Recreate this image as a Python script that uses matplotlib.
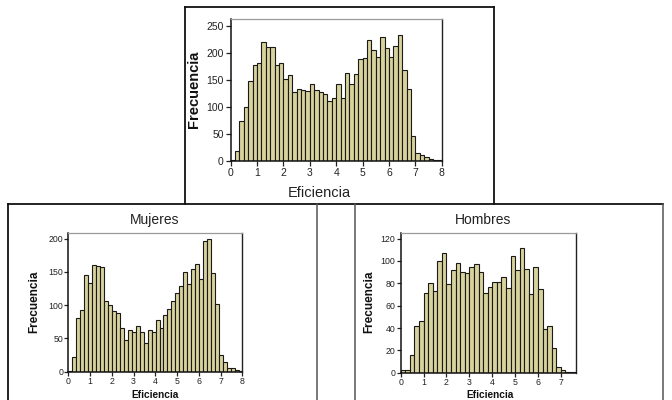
import numpy as np
import matplotlib
matplotlib.use("Agg")
import matplotlib.pyplot as plt
from matplotlib.lines import Line2D

# ---------------- data ----------------
# Total (bins of width 1/6 from 0 to 8)
total_counts = [2, 18, 73, 99, 148, 178, 182, 219, 211, 211, 178, 181,
                152, 159, 128, 133, 131, 130, 143, 132, 128, 124, 111, 116,
                142, 117, 162, 142, 160, 189, 190, 224, 206, 193, 229, 209,
                193, 213, 232, 169, 133, 46, 15, 12, 8, 4, 2, 1]
total_start, total_width = 0.0, 1.0 / 6.0

# Mujeres
mujeres_counts = [1, 22, 81, 93, 146, 134, 160, 159, 157, 107, 100, 92,
                  88, 66, 48, 62, 59, 69, 59, 43, 63, 60, 77, 65,
                  86, 94, 106, 119, 129, 150, 132, 154, 162, 140, 196, 199,
                  148, 102, 25, 14, 6, 5, 3, 1]
mujeres_start, mujeres_width = -0.02, 0.1832

# Hombres (bins of width 0.2)
hombres_counts = [2, 2, 16, 42, 46, 71, 80, 73, 100, 107, 79, 92,
                  98, 90, 89, 95, 97, 90, 71, 77, 81, 81, 86, 76,
                  104, 92, 112, 93, 70, 95, 75, 39, 42, 22, 5, 2, 1, 1]
hombres_start, hombres_width = 0.0, 0.2

total_yticks = [0, 50, 100, 150, 200, 250]
mujeres_yticks = [0, 50, 100, 150, 200]
hombres_yticks = [0, 20, 40, 60, 80, 100, 120]
total_xticks = list(range(0, 9))
mujeres_xticks = list(range(0, 9))
hombres_xticks = list(range(0, 8))

xlabel_text = "Eficiencia"
ylabel_text = "Frecuencia"
title_m = "Mujeres"
title_h = "Hombres"

# ---------------- figure ----------------
W, H = 672, 400
plt.rcParams['font.family'] = ['Liberation Sans', 'DejaVu Sans']
fig = plt.figure(figsize=(W / 100, H / 100), dpi=100)
fig.patch.set_facecolor("white")

BAR_FACE = "#d8d29c"
BAR_EDGE = "#1a1a1a"


def px_axes(left, right, top, bottom):
    return fig.add_axes([left / W, 1 - bottom / H, (right - left) / W, (bottom - top) / H])


def style(ax, xlim, ylim, xticks, yticks, fs, tlen=3.5, pad=1.5):
    ax.set_xlim(*xlim)
    ax.set_ylim(*ylim)
    ax.set_xticks(xticks)
    ax.set_yticks(yticks)
    ax.tick_params(axis='both', direction='out', length=tlen, width=0.9,
                   labelsize=fs, colors='#222222', pad=pad)
    for s in ['left', 'bottom']:
        ax.spines[s].set_color('#111111')
        ax.spines[s].set_linewidth(1.1)
    ax.spines['top'].set_color('#9a9a9a')
    ax.spines['top'].set_linewidth(0.9)
    ax.spines['right'].set_color('#222222')
    ax.spines['right'].set_linewidth(1.0)
    ax.set_facecolor('white')


def hist(ax, counts, start, width):
    counts = np.asarray(counts, dtype=float)
    lefts = start + width * np.arange(len(counts))
    ax.bar(lefts, counts, width=width, align='edge', color=BAR_FACE,
           edgecolor=BAR_EDGE, linewidth=0.8)


def ftext(x, y, s, **kw):
    fig.text(x / W, 1 - y / H, s, **kw)


# Top panel (total)
ax0 = px_axes(230.7, 441.7, 19, 161)
hist(ax0, total_counts, total_start, total_width)
style(ax0, (0, 8), (0, 262.4), total_xticks, total_yticks, 7.5)
ftext(194, 89, ylabel_text, rotation=90, ha='center', va='center',
      fontsize=10.5, fontweight='bold', color='#111111')
ftext(319, 193, xlabel_text, ha='center', va='center', fontsize=10.5, color='#222222')

# Mujeres
ax1 = px_axes(68.3, 242.3, 232.7, 371.7)
hist(ax1, mujeres_counts, mujeres_start, mujeres_width)
style(ax1, (0, 8), (0, 209), mujeres_xticks, mujeres_yticks, 6.3, tlen=3, pad=0.8)
ftext(155, 220, title_m, ha='center', va='center', fontsize=10, color='#222222')
ftext(34.5, 301.5, ylabel_text, rotation=90, ha='center', va='center',
      fontsize=8.5, fontweight='bold', color='#111111')
ftext(155.5, 400, xlabel_text, ha='center', va='bottom', fontsize=7.3,
      fontweight='bold', color='#111111')

# Hombres
ax2 = px_axes(400.7, 576, 232.7, 372.7)
hist(ax2, hombres_counts, hombres_start, hombres_width)
style(ax2, (0, 7.66), (0, 125.3), hombres_xticks, hombres_yticks, 6.3, tlen=3, pad=0.8)
ftext(483, 220, title_h, ha='center', va='center', fontsize=10, color='#222222')
ftext(369, 301.5, ylabel_text, rotation=90, ha='center', va='center',
      fontsize=8.5, fontweight='bold', color='#111111')
ftext(490, 400, xlabel_text, ha='center', va='bottom', fontsize=7.3,
      fontweight='bold', color='#111111')


# ---------------- frame (table cell borders) ----------------
def fline(x0, y0, x1, y1, color='#111111', lw=1.3):
    fig.add_artist(Line2D([x0 / W, x1 / W], [1 - y0 / H, 1 - y1 / H],
                          transform=fig.transFigure, color=color, linewidth=lw))


fline(184.5, 7, 493.5, 7)
fline(184.5, 7, 184.5, 203.5)
fline(493.5, 7, 493.5, 204)
fline(7.5, 203.8, 663.3, 203.8)
fline(7.5, 203.8, 7.5, 400)
fline(317, 203.8, 317, 400, color='#555555', lw=1.1)
fline(355, 203.8, 355, 400, color='#555555', lw=1.1)
fline(663.3, 203.8, 663.3, 400, color='#555555', lw=1.1)

fig.savefig("out.png", dpi=100, facecolor="white")
